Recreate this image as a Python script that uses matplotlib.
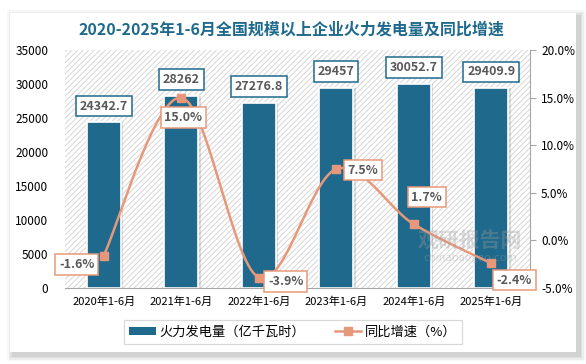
import matplotlib

matplotlib.use('Agg')
import matplotlib.pyplot as plt
from matplotlib.patches import Rectangle
from matplotlib.lines import Line2D
import numpy as np

plt.rcParams['font.family'] = ['Noto Sans CJK SC', 'DejaVu Sans']
plt.rcParams['hatch.linewidth'] = 0.7

# data
periods = ['2020年1-6月', '2021年1-6月', '2022年1-6月', '2023年1-6月', '2024年1-6月', '2025年1-6月']
output = [24342.7, 28262, 27276.8, 29457, 30052.7, 29409.9]   # 亿千瓦时
growth = [-1.6, 15.0, -3.9, 7.5, 1.7, -2.4]                    # %
output_labels = ['24342.7', '28262', '27276.8', '29457', '30052.7', '29409.9']
# where each growth label sits relative to its point (pixels)
growth_offsets = [(-27, -9), (2, -20), (27, -4), (27, -1), (13, 27), (23, -17)]

bar_color = '#1f6a8c'
line_color = '#e8987a'


def smooth(xs, ys, n=30):
    # catmull-rom, roughly what excel does for a "smoothed line"
    p = np.column_stack([xs, ys]).astype(float)
    p = np.vstack([p[0], p, p[-1]])
    out = []
    for i in range(1, len(p) - 2):
        p0, p1, p2, p3 = p[i - 1], p[i], p[i + 1], p[i + 2]
        c1 = p1 + (p2 - p0) / 6
        c2 = p2 - (p3 - p1) / 6
        t = np.linspace(0, 1, n)[:, None]
        seg = (1 - t) ** 3 * p1 + 3 * (1 - t) ** 2 * t * c1 + 3 * (1 - t) * t ** 2 * c2 + t ** 3 * p2
        out.append(seg if i == 1 else seg[1:])
    out = np.vstack(out)
    return out[:, 0], out[:, 1]


fig = plt.figure(figsize=(5.86, 3.64), dpi=100)
W, H = 586, 364

# card with a soft shadow
for k, a in enumerate([0.03, 0.04, 0.05, 0.06]):
    g = 6 - k * 1.5
    fig.patches.append(Rectangle(((10 - g + 3) / W, 1 - (352 + g + 3) / H), (566 + 2 * g) / W, (339 + 2 * g) / H,
                                 transform=fig.transFigure, fc='black', ec='none', alpha=a, zorder=-3))
fig.patches.append(Rectangle((10 / W, 1 - 352 / H), 566 / W, 339 / H, transform=fig.transFigure,
                             fc='white', ec='none', zorder=-2))

ax = fig.add_axes([65 / W, 1 - 288 / H, 465 / W, 238 / H])
ax.set_facecolor('none')
# diagonal hatched plot area
ax.add_patch(Rectangle((0, 0), 1, 1, transform=ax.transAxes, fc='white', ec='#d6d6d6', lw=0,
                       hatch='//////', zorder=0))

x = np.arange(len(periods))
ax.bar(x + 0.03, output, width=0.44, color='#000000', alpha=0.12, zorder=1)
ax.bar(x, output, width=0.44, color=bar_color, edgecolor='white', linewidth=1.2, zorder=2)
ax.set_xlim(-0.5, len(periods) - 0.5)
ax.set_ylim(0, 35000)
ax.set_yticks(np.arange(0, 35001, 5000))
ax.set_xticks(x)
ax.set_xticklabels(periods, fontsize=8)
ax.tick_params(axis='y', length=0, labelsize=8.5, pad=12)
ax.tick_params(axis='x', length=0, pad=6)
for s in ['top', 'right', 'left']:
    ax.spines[s].set_visible(False)
ax.spines['bottom'].set_color('#a6a6a6')

for xi, v, lab in zip(x, output, output_labels):
    ax.annotate(lab, (xi, v), xytext=(0, 7), textcoords='offset points', ha='center', va='bottom',
                fontsize=9, fontweight='bold', color='#595959', zorder=5,
                bbox=dict(boxstyle='square,pad=0.3', fc='white', ec=bar_color, lw=1.1))

ax2 = ax.twinx()
ax2.set_ylim(-5, 20)
ax2.set_yticks(np.arange(-5, 20.1, 5))
ax2.set_yticklabels([f'{t:.1f}%' for t in np.arange(-5, 20.1, 5)])
ax2.tick_params(axis='y', length=4, labelsize=8.5, color='#a6a6a6', pad=4)
for s in ['top', 'left', 'bottom']:
    ax2.spines[s].set_visible(False)
ax2.spines['right'].set_color('#a6a6a6')

sx, sy = smooth(x, growth)
ax2.plot(sx, sy, color=line_color, lw=1.8, zorder=3)
ax2.plot(x, growth, ls='none', marker='s', ms=6, color=line_color, zorder=4)
for xi, v, off in zip(x, growth, growth_offsets):
    ax2.annotate(f'{v:.1f}%', (xi, v), xytext=(off[0] * 0.72, off[1] * 0.72), textcoords='offset points',
                 ha='center', va='center', fontsize=9, fontweight='bold', color='#595959', zorder=6,
                 bbox=dict(boxstyle='square,pad=0.3', fc='white', ec=line_color, lw=1.1))

# faint watermark
fig.text(470 / W, 1 - 240 / H, '观研报告网', fontsize=15, fontweight='bold', color='#9a9a9a', alpha=0.35,
         ha='center', va='center', zorder=10)
fig.text(470 / W, 1 - 258 / H, 'chinabaogao.com', fontsize=8, color='#9a9a9a', alpha=0.35,
         ha='center', va='center', zorder=10)

fig.text(291 / W, 1 - 30 / H, '2020-2025年1-6月全国规模以上企业火力发电量及同比增速', fontsize=11.5,
         fontweight='bold', color='#1f6a8c', ha='center', va='center')

handles = [Rectangle((0, 0), 1, 1, fc=bar_color, ec='none'),
           Line2D([], [], color=line_color, lw=1.8, marker='s', ms=6)]
leg = fig.legend(handles, ['火力发电量（亿千瓦时）', '同比增速（%）'], loc='center', ncol=2,
                 bbox_to_anchor=(293 / W, 1 - 332 / H), fontsize=9.5, frameon=True, fancybox=False,
                 edgecolor='#d0d0d0', handlelength=2.0, handleheight=0.5, handletextpad=0.3,
                 columnspacing=2.2, borderpad=0.45, borderaxespad=0)
leg.get_frame().set_linewidth(0.9)

fig.savefig('out.png', dpi=100)
